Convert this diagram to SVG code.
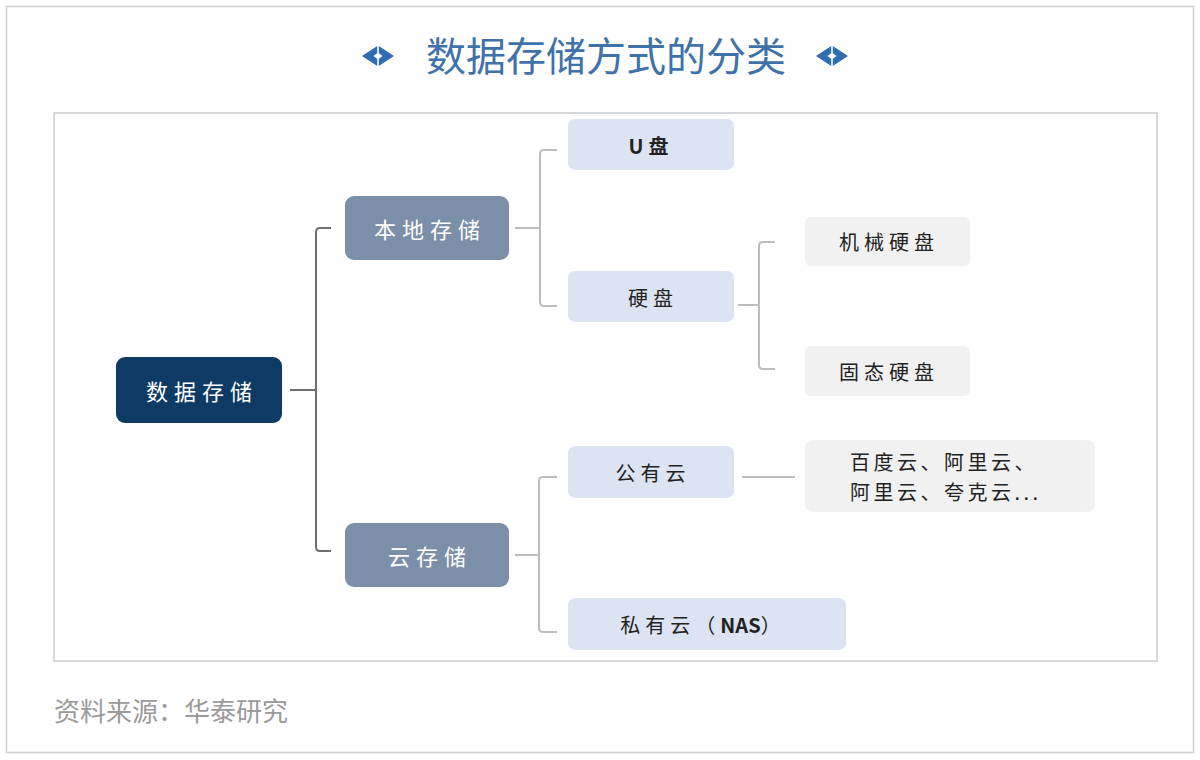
<svg xmlns="http://www.w3.org/2000/svg" width="1200" height="760" viewBox="0 0 1200 760">
<style>
.cjk{font-family:"Noto Sans CJK SC","Noto Sans",sans-serif}
.dark{fill:#0e3a66}
.mid{fill:#7b8fa8}
.lite{fill:#dce3f3}
.gray{fill:#f1f1f1}
.tw{fill:#ffffff;font-size:22px;letter-spacing:6px;text-anchor:middle;dominant-baseline:central}
.tb{fill:#222222;font-size:20px;letter-spacing:5px;text-anchor:middle;dominant-baseline:central}
.c1{fill:none;stroke:#6e6e6e;stroke-width:2}
.c2{fill:none;stroke:#bdbdbd;stroke-width:2}
.icon{fill:#2f6db3}
</style>
<defs>
<g id="ico">
<path d="M-16,0 L-0.8,-10 L-0.8,-2.8 L-4.5,0 L-0.8,2.8 L-0.8,10 Z M16,0 L0.8,-10 L0.8,-2.8 L4.5,0 L0.8,2.8 L0.8,10 Z"/>
</g>
</defs>
<rect x="0" y="0" width="1200" height="760" fill="#ffffff"/>
<rect x="6.5" y="6.5" width="1187" height="746" fill="#ffffff" stroke="#cfcfcf" stroke-width="1.5"/>
<g id="title">
<use href="#ico" class="icon" x="378" y="56"/>
<use href="#ico" class="icon" x="832" y="56"/>
<text x="606" y="71" class="cjk" font-size="40" fill="#3d72aa" text-anchor="middle">数据存储方式的分类</text>
</g>
<rect x="54" y="113" width="1103" height="548" fill="#ffffff" stroke="#c8ccd0" stroke-width="1.5"/>
<g id="connectors">
<path class="c1" d="M290,390 H316 M331,228 H320 Q316,228 316,232 V547 Q316,551 320,551 H331"/>
<path class="c2" d="M515,228 H540 M557,150 H544 Q540,150 540,154 V302 Q540,306 544,306 H557"/>
<path class="c2" d="M738,305 H759 M775,242 H763 Q759,242 759,246 V365 Q759,369 763,369 H775"/>
<path class="c2" d="M515,555 H539 M557,477 H543 Q539,477 539,481 V628 Q539,632 543,632 H557"/>
<path class="c2" d="M742,477 H795"/>
</g>
<g id="n-root"><rect class="dark" x="116" y="357" width="166" height="66" rx="9"/><text class="cjk tw" x="202" y="390">数据存储</text></g>
<g id="n-local"><rect class="mid" x="345" y="196" width="164" height="64" rx="9"/><text class="cjk tw" x="430" y="228">本地存储</text></g>
<g id="n-cloud"><rect class="mid" x="345" y="523" width="164" height="64" rx="9"/><text class="cjk tw" x="430" y="555">云存储</text></g>
<g id="n-u"><rect class="lite" x="568" y="119" width="166" height="51" rx="7"/><text class="cjk tb" x="651" y="145" font-weight="bold" letter-spacing="0">U盘</text></g>
<g id="n-hdd"><rect class="lite" x="568" y="271" width="166" height="51" rx="7"/><text class="cjk tb" x="653" y="297">硬盘</text></g>
<g id="n-public"><rect class="lite" x="568" y="446" width="166" height="52" rx="7"/><text class="cjk tb" x="653" y="472">公有云</text></g>
<g id="n-private"><rect class="lite" x="568" y="598" width="278" height="52" rx="7"/><text class="cjk tb" x="703" y="624">私有云（<tspan font-weight="bold" letter-spacing="0">NAS</tspan>）</text></g>
<g id="n-mech"><rect class="gray" x="805" y="217" width="165" height="49" rx="6"/><text class="cjk tb" x="889" y="241">机械硬盘</text></g>
<g id="n-ssd"><rect class="gray" x="805" y="346" width="165" height="50" rx="6"/><text class="cjk tb" x="889" y="371">固态硬盘</text></g>
<g id="n-vendors"><rect class="gray" x="805" y="440" width="290" height="72" rx="8"/>
<text class="cjk" x="850" y="470" font-size="20" fill="#222" letter-spacing="3.5">百度云、阿里云、</text>
<text class="cjk" x="850" y="500" font-size="20" fill="#222" letter-spacing="3.5">阿里云、夸克云...</text></g>
<text class="cjk" x="54" y="721" font-size="26" fill="#9a9a9a">资料来源：华泰研究</text>
</svg>
